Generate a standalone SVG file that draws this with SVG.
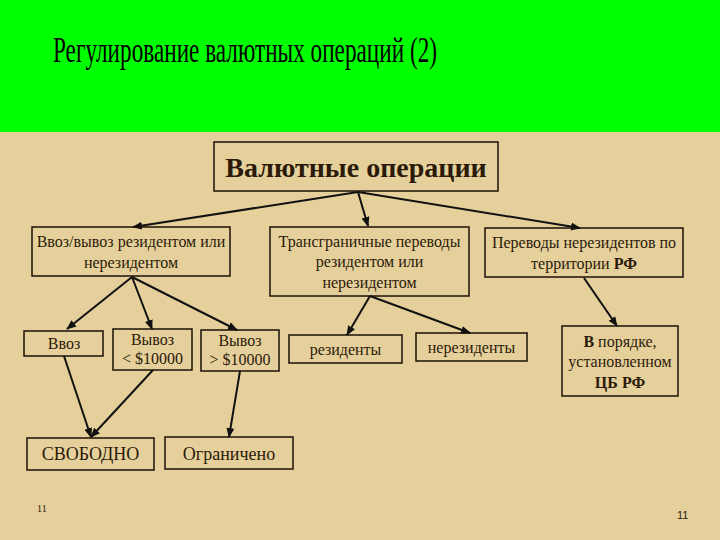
<svg xmlns="http://www.w3.org/2000/svg" width="720" height="540" viewBox="0 0 720 540">
<defs>
<style>
.box{fill:none;stroke:#1a1008;stroke-width:1.5}
.t{fill:#2b1a0a;text-anchor:middle}
.b{font-weight:bold}
.c line{stroke:#111;stroke-width:2;marker-end:url(#ah)}
</style>
<marker id="ah" viewBox="0 0 10 10" refX="9" refY="5" markerWidth="5" markerHeight="5" orient="auto" markerUnits="strokeWidth">
<path d="M0,1 L10,5 L0,9 z" fill="#111"/>
</marker>
</defs>
<rect x="0" y="0" width="720" height="540" fill="#E5D09B"/>
<rect x="0" y="0" width="720" height="132" fill="#00FF00"/>
<text x="53" y="62" font-family="Liberation Serif, Times New Roman, serif" font-size="35" fill="#000" textLength="384" lengthAdjust="spacingAndGlyphs">Регулирование валютных операций (2)</text>

<g class="c">
<line x1="358" y1="192" x2="133" y2="227"/>
<line x1="358" y1="192" x2="368" y2="226"/>
<line x1="358" y1="192" x2="580" y2="228"/>
<line x1="132" y1="277" x2="67" y2="329"/>
<line x1="132" y1="277" x2="152" y2="329"/>
<line x1="132" y1="277" x2="237" y2="330"/>
<line x1="64" y1="356" x2="91" y2="437"/>
<line x1="153" y1="370" x2="91" y2="437"/>
<line x1="240" y1="371" x2="229" y2="437"/>
<line x1="370" y1="296" x2="347" y2="335"/>
<line x1="370" y1="296" x2="470" y2="333"/>
<line x1="584" y1="278" x2="617" y2="326"/>
</g>

<g font-family="Liberation Serif, Times New Roman, serif" font-size="16">
<g id="main">
<rect class="box" x="214" y="142" width="284" height="49"/>
<text class="t b" x="356" y="177" font-size="28">Валютные операции</text>
</g>
<g id="import-export">
<rect class="box" x="32" y="227" width="198" height="49"/>
<text class="t" x="131" y="247">Ввоз/вывоз резидентом или</text>
<text class="t" x="131" y="268">нерезидентом</text>
</g>
<g id="crossborder">
<rect class="box" x="270" y="227" width="199" height="69"/>
<text class="t" x="369.5" y="247">Трансграничные переводы</text>
<text class="t" x="369.5" y="267">резидентом или</text>
<text class="t" x="369.5" y="288">нерезидентом</text>
</g>
<g id="nonres-transfers">
<rect class="box" x="485" y="228" width="198" height="49"/>
<text class="t" x="584" y="248">Переводы нерезидентов по</text>
<text class="t" x="584" y="269">территории <tspan class="b">РФ</tspan></text>
</g>
<g id="import">
<rect class="box" x="24" y="331" width="79" height="25"/>
<text class="t" x="64" y="349">Ввоз</text>
</g>
<g id="export-less">
<rect class="box" x="113" y="329" width="79" height="41"/>
<text class="t" x="152.5" y="345">Вывоз</text>
<text class="t" x="152.5" y="364">&lt; $10000</text>
</g>
<g id="export-more">
<rect class="box" x="201" y="330" width="78" height="41"/>
<text class="t" x="240" y="346">Вывоз</text>
<text class="t" x="240" y="365">&gt; $10000</text>
</g>
<g id="free">
<rect class="box" x="27" y="438" width="127" height="32"/>
<text class="t" x="90.5" y="460" font-size="18">СВОБОДНО</text>
</g>
<g id="limited">
<rect class="box" x="165" y="437" width="128" height="32"/>
<text class="t" x="229" y="460" font-size="18">Ограничено</text>
</g>
<g id="residents">
<rect class="box" x="289" y="335" width="113" height="28"/>
<text class="t" x="345.5" y="355">резиденты</text>
</g>
<g id="nonresidents">
<rect class="box" x="416" y="333" width="111" height="28"/>
<text class="t" x="471.5" y="353">нерезиденты</text>
</g>
<g id="cbr">
<rect class="box" x="562" y="326" width="116" height="70"/>
<text class="t" x="620" y="347"><tspan class="b">В</tspan> порядке,</text>
<text class="t" x="620" y="367">установленном</text>
<text class="t b" x="620" y="388">ЦБ РФ</text>
</g>
<text x="37" y="512" font-size="10" fill="#2b1a0a">11</text>
</g>
<text x="677" y="519" font-family="Liberation Sans, Arial, sans-serif" font-size="11" fill="#2b1a0a">11</text>
</svg>
